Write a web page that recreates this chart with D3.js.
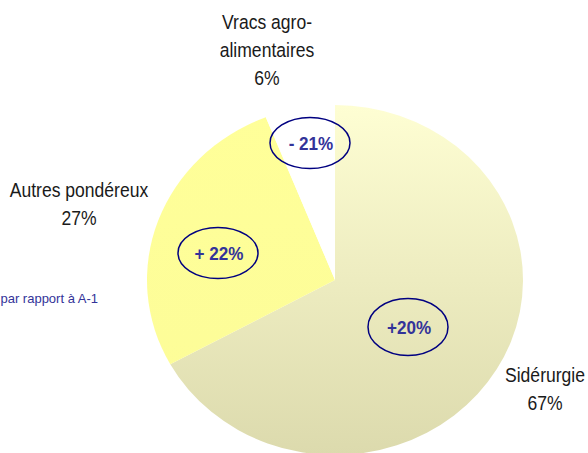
<!DOCTYPE html>
<html>
<head>
<meta charset="utf-8">
<script src="https://cdn.jsdelivr.net/npm/d3@7"></script>
<style>
  html, body { margin: 0; padding: 0; background: #fff; }
  svg { display: block; }
</style>
</head>
<body>
<script>
// ---- data ----
const categories = ["Sidérurgie", "Autres pondéreux", "Vracs agro-alimentaires"];
const shares = [67, 27, 6];
const changes = ["+20%", "+ 22%", "- 21%"];
const labelLines = [["Sidérurgie", "67%"], ["Autres pondéreux", "27%"], ["Vracs agro-", "alimentaires", "6%"]];
const noteText = "par rapport à A-1";

// ---- layout ----
const W = 588, H = 453;
const cx = 335, cy = 280, R = 188, RY = 175;
const badgePos = [[408, 327], [218, 253], [310, 143]];
const badgeRy = [28.5, 25.5, 25.5];
const labelPos = [[545, 382], [79, 197], [267, 29]];

const svg = d3.select("body").append("svg").attr("width", W).attr("height", H);
const defs = svg.append("defs");

const g1 = defs.append("linearGradient").attr("id", "gSid")
  .attr("gradientUnits", "userSpaceOnUse").attr("x1", 0).attr("y1", -R).attr("x2", 0).attr("y2", R);
g1.append("stop").attr("offset", "0%").attr("stop-color", "#fefed3");
g1.append("stop").attr("offset", "100%").attr("stop-color", "#dcdaad");

const g2 = defs.append("linearGradient").attr("id", "gAut")
  .attr("gradientUnits", "userSpaceOnUse").attr("x1", 0).attr("y1", -R).attr("x2", 0).attr("y2", R);
g2.append("stop").attr("offset", "0%").attr("stop-color", "#ffff99");
g2.append("stop").attr("offset", "100%").attr("stop-color", "#fcfc98");

const fills = ["url(#gSid)", "url(#gAut)", "#ffffff"];

const pie = d3.pie().sort(null).value(d => d);
const arcs = pie(shares);
const arc = d3.arc().innerRadius(0).outerRadius(R);

const pg = svg.append("g").attr("transform", `translate(${cx},${cy}) scale(1,${RY / R})`);
pg.selectAll("path").data(arcs).join("path")
  .attr("d", arc)
  .attr("fill", (d, i) => fills[i]);

// badges
changes.forEach((c, i) => {
  const [bx, by] = badgePos[i];
  svg.append("ellipse").attr("cx", bx).attr("cy", by).attr("rx", 40).attr("ry", badgeRy[i])
    .attr("fill", "none").attr("stroke", "#000080").attr("stroke-width", 1.5);
  svg.append("text")
    .attr("transform", `translate(${bx + 1},${by + 6.5}) scale(0.95,1)`)
    .attr("text-anchor", "middle")
    .attr("font-family", "Liberation Sans, Arial, sans-serif")
    .attr("font-size", 18).attr("font-weight", "bold")
    .attr("fill", "#333399")
    .text(c);
});

// outside labels
labelLines.forEach((lines, i) => {
  const [lx, ly] = labelPos[i];
  lines.forEach((t, j) => {
    svg.append("text")
      .attr("transform", `translate(${lx},${ly + j * 28}) scale(0.9,1)`)
      .attr("text-anchor", "middle")
      .attr("font-family", "Liberation Sans, Arial, sans-serif")
      .attr("font-size", 19.5)
      .attr("fill", "#1a1a1a")
      .text(t);
  });
});

// note
svg.append("text")
  .attr("x", 98).attr("y", 303)
  .attr("text-anchor", "end")
  .attr("font-family", "Liberation Sans, Arial, sans-serif")
  .attr("font-size", 13)
  .attr("fill", "#333399")
  .text(noteText);
</script>
</body>
</html>
